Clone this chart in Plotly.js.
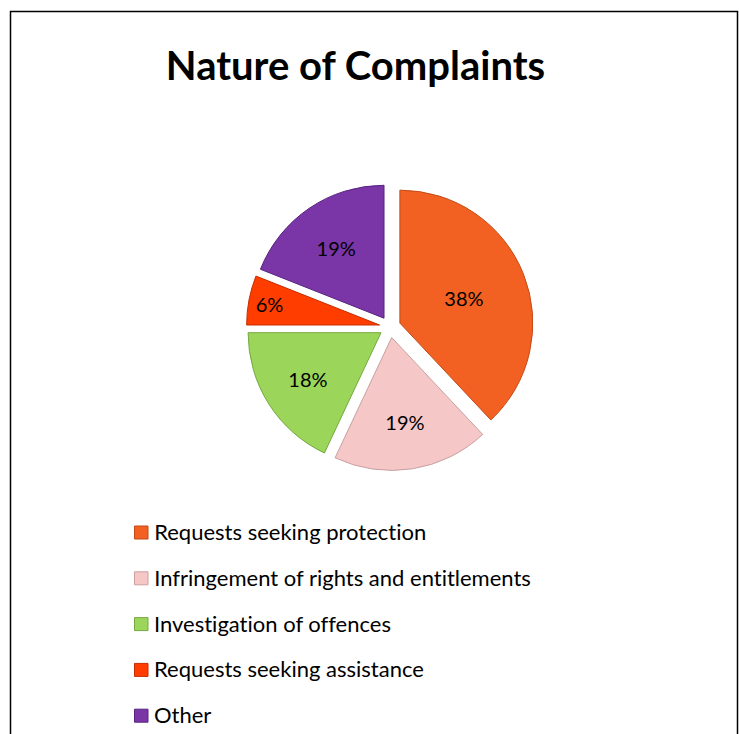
<!DOCTYPE html>
<html>
<head>
<meta charset="utf-8">
<script src="https://cdn.plot.ly/plotly-3.0.1.min.js"></script>
<style>
html,body{margin:0;padding:0;background:#fff;}
#chart{width:739px;height:734px;}
#chart text{font-variant-ligatures:none !important;font-feature-settings:"liga" 0,"clig" 0 !important;}
</style>
</head>
<body>
<div id="chart"></div>
<script>
const labels = ["Requests seeking protection", "Infringement of rights and entitlements", "Investigation of offences", "Requests seeking assistance", "Other"];
const values = [38, 19, 18, 6, 19];
const colors = ["#F26122", "#F5C7C7", "#9BD55A", "#FF3D00", "#7A35A7"];
const edgeColors = ["#C24A14", "#C9A0A0", "#76A940", "#C42E00", "#582380"];

const W = 739, H = 734;
const px = x => x / W;
const py = y => 1 - y / H;

const shapes = [{
  type: "rect", xref: "paper", yref: "paper",
  x0: px(10.5), x1: px(737.5), y0: py(760), y1: py(11.5),
  line: {color: "#000", width: 1.5}, fillcolor: "rgba(0,0,0,0)"
}];
const annotations = [];
labels.forEach((lab, i) => {
  const yc = 532.5 + 45.8 * i;
  shapes.push({
    type: "rect", xref: "paper", yref: "paper",
    x0: px(134.5), x1: px(148), y0: py(yc + 6.5), y1: py(yc - 6.5),
    fillcolor: colors[i], line: {color: edgeColors[i], width: 1}
  });
  annotations.push({
    xref: "paper", yref: "paper", x: px(152), y: py(yc - 1), xanchor: "left", yanchor: "middle",
    text: lab, showarrow: false, font: {family: "Lato, sans-serif", size: 22, color: "#000"}
  });
});

const trace = {
  type: "pie",
  labels: labels,
  values: values,
  sort: false,
  direction: "clockwise",
  rotation: 0,
  pull: 0.08,
  textinfo: "percent",
  textposition: "inside",
  insidetextorientation: "horizontal",
  textfont: {family: "Lato, sans-serif", size: 20, color: "#000"},
  marker: {colors: colors, line: {color: edgeColors, width: 1}},
  domain: {x: [0.3334, 0.7221], y: [0.3589, 0.7501]},
  hoverinfo: "label+percent",
  showlegend: false
};

const layout = {
  width: W, height: H,
  margin: {l: 0, r: 0, t: 0, b: 0},
  paper_bgcolor: "#fff",
  title: {
    text: "<b>Nature of Complaints</b>",
    x: px(355.5), xanchor: "center", y: py(66), yanchor: "middle", xref: "paper", yref: "paper",
    font: {family: "Lato, sans-serif", size: 40, color: "#000"}
  },
  shapes: shapes,
  annotations: annotations,
  showlegend: false
};

Plotly.newPlot("chart", [trace], layout, {displayModeBar: false, staticPlot: true});
</script>
</body>
</html>
